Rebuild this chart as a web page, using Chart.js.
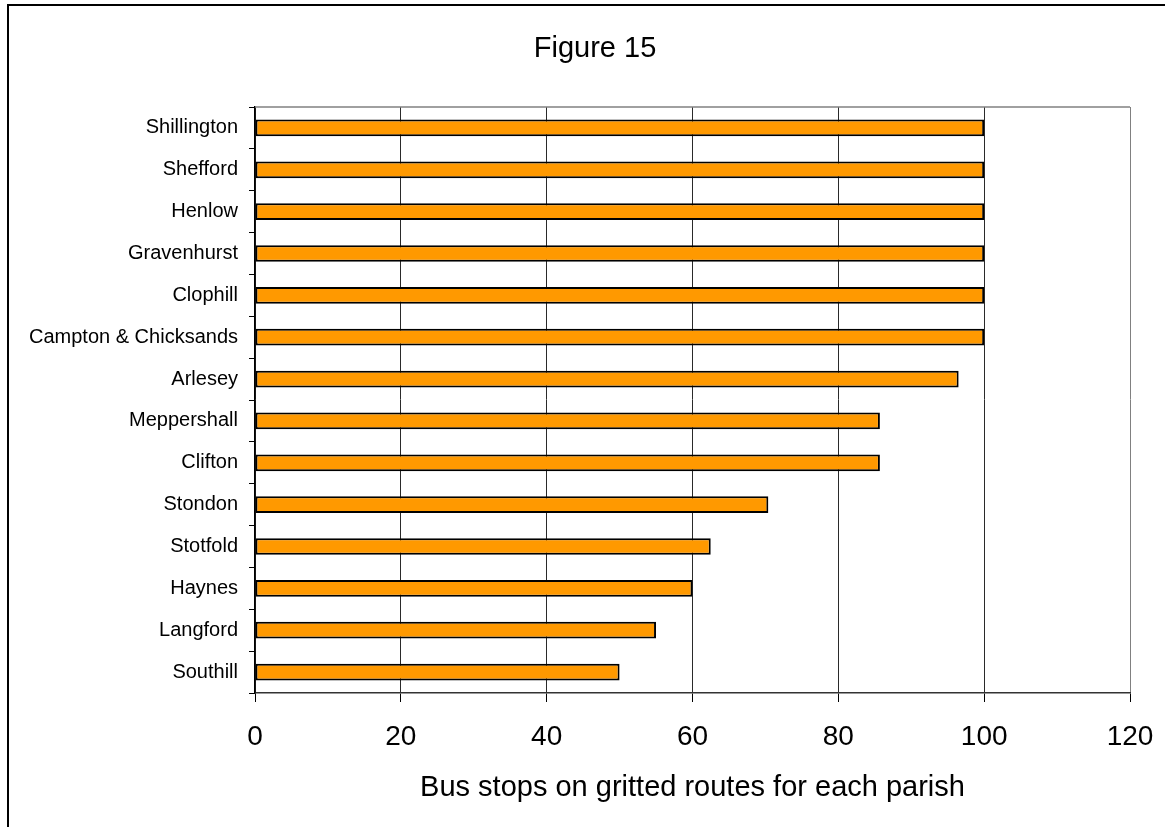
<!DOCTYPE html>
<html>
<head>
<meta charset="utf-8">
<script src="https://cdn.jsdelivr.net/npm/chart.js@4"></script>
<style>
  html, body { margin: 0; padding: 0; background: #fff; overflow: hidden; }
  #wrap { position: relative; width: 1165px; height: 827px; }
  #frame { position: absolute; left: 7px; top: 4px; width: 1200px; height: 900px; border: 2px solid #000; box-sizing: border-box; pointer-events: none; }
  canvas { position: absolute; left: 0; top: 0; }
</style>
</head>
<body>
<div id="wrap">
  <canvas id="c" width="1165" height="827"></canvas>
  <div id="frame"></div>
</div>
<script>
const parishes = [
  'Shillington', 'Shefford', 'Henlow', 'Gravenhurst', 'Clophill',
  'Campton & Chicksands', 'Arlesey', 'Meppershall', 'Clifton', 'Stondon',
  'Stotfold', 'Haynes', 'Langford', 'Southill'
];
const gritted = [100, 100, 100, 100, 100, 100, 96.5, 85.7, 85.7, 70.4, 62.5, 60, 55, 50];
const xTicks = [0, 20, 40, 60, 80, 100, 120];
const chartTitle = 'Figure 15';
const xTitle = 'Bus stops on gritted routes for each parish';

const FONT = "'Liberation Sans', Arial, sans-serif";

// Title text and the grey top edge of the plot frame
const framePlugin = {
  id: 'frame',
  afterDraw(chart) {
    const { ctx, chartArea } = chart;
    ctx.save();
    ctx.strokeStyle = '#808080';
    ctx.lineWidth = 1.5;
    ctx.beginPath();
    ctx.moveTo(chartArea.left, chartArea.top);
    ctx.lineTo(chartArea.right, chartArea.top);
    ctx.stroke();
    ctx.fillStyle = '#000';
    ctx.font = '29px ' + FONT;
    ctx.textAlign = 'center';
    ctx.textBaseline = 'alphabetic';
    ctx.fillText(chartTitle, 595, 56.5);
    ctx.restore();
  }
};

new Chart(document.getElementById('c'), {
  type: 'bar',
  data: {
    labels: parishes,
    datasets: [{
      data: gritted,
      backgroundColor: '#FF9900',
      borderColor: '#000',
      borderWidth: 2,
      borderSkipped: false,
      barPercentage: 0.4,
      categoryPercentage: 1
    }]
  },
  options: {
    indexAxis: 'y',
    responsive: false,
    animation: false,
    devicePixelRatio: 1,
    layout: { padding: { top: 107, right: 35, bottom: 0, left: 0 } },
    plugins: {
      legend: { display: false },
      title: { display: false },
      tooltip: { enabled: false }
    },
    scales: {
      x: {
        type: 'linear',
        min: 0,
        max: 120,
        afterBuildTicks(scale) { scale.ticks = xTicks.map(v => ({ value: v })); },
        afterFit(scale) {
          scale.height = 134;
          scale.paddingLeft = 0;
          scale.paddingRight = 0;
        },
        grid: {
          color: ctx => (ctx.tick && ctx.tick.value === 120) ? '#808080' : '#2a2a2a',
          lineWidth: 1,
          tickLength: 9,
          tickColor: '#000'
        },
        border: { display: true, color: '#333', width: 1.5 },
        ticks: {
          color: '#000',
          font: { family: FONT, size: 28 },
          padding: 18,
          maxRotation: 0
        },
        title: {
          display: true,
          text: xTitle,
          color: '#000',
          font: { family: FONT, size: 29 },
          padding: { top: 22, bottom: 22 }
        }
      },
      y: {
        afterFit(scale) { scale.width = 255; },
        grid: {
          drawOnChartArea: false,
          drawTicks: true,
          tickLength: 6,
          tickColor: '#000',
          offset: true
        },
        border: { display: true, color: '#000', width: 1.5 },
        ticks: {
          color: '#000',
          font: { family: FONT, size: 20 },
          padding: 11,
          autoSkip: false
        }
      }
    }
  },
  plugins: [framePlugin]
});
</script>
</body>
</html>
